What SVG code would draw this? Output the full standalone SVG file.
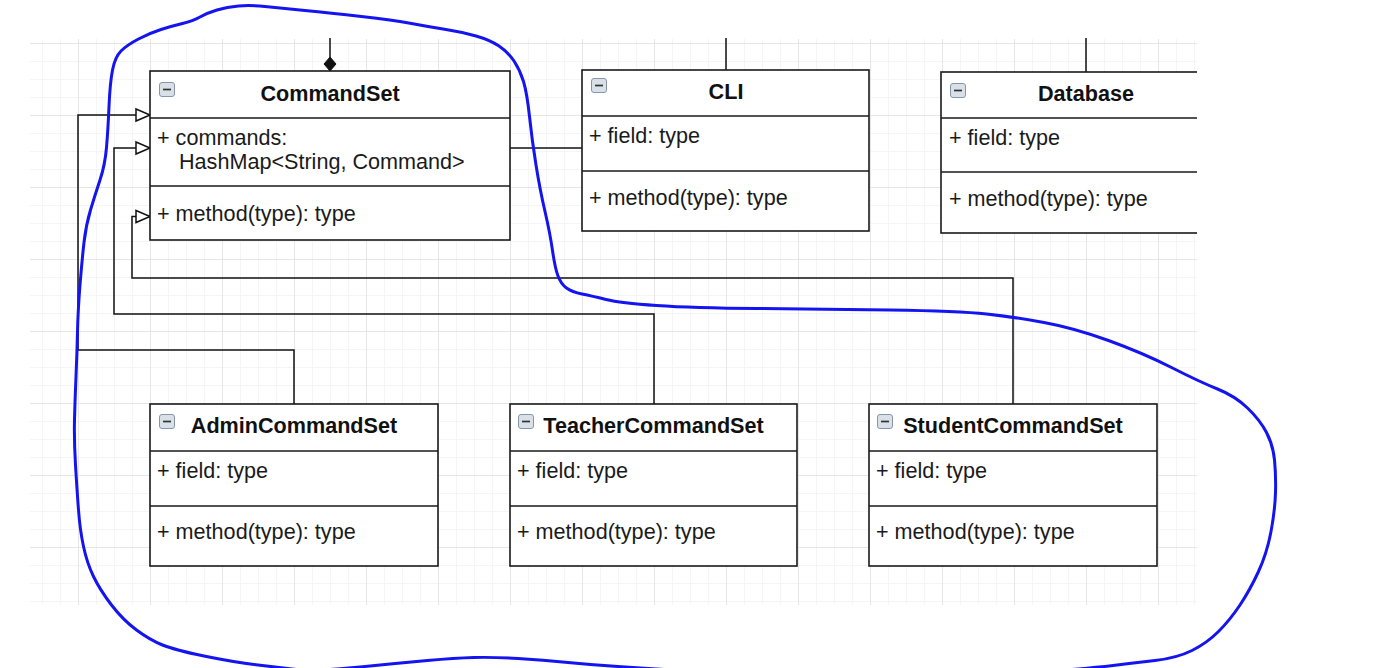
<svg xmlns="http://www.w3.org/2000/svg" xmlns:xlink="http://www.w3.org/1999/xlink" width="1384" height="668" viewBox="0 0 1384 668">
<style>
.box{fill:#fff;stroke:#1a1a1a;stroke-width:1.6}
.div{stroke:#1a1a1a;stroke-width:1.6;fill:none}
.t{font-family:"Liberation Sans",Arial,sans-serif;font-size:21.6px;fill:#1a1a1a}
.h{font-weight:bold;text-anchor:middle;fill:#111}
.c{fill:none;stroke:#111;stroke-width:1.5}
.hand{fill:none;stroke:#1414f0;stroke-width:3;stroke-linejoin:round;stroke-linecap:round}
</style>
<defs>
<pattern id="grid" patternUnits="userSpaceOnUse" x="6" y="43" width="72" height="72">
<path d="M18.5 0V72M36.5 0V72M54.5 0V72M0 18.5H72M0 36.5H72M0 54.5H72" stroke="#f5f5f5" stroke-width="1"/>
<path d="M0.5 0V72M0 0.5H72" stroke="#e6e6e6" stroke-width="1"/>
</pattern>
<marker id="tri" markerUnits="userSpaceOnUse" markerWidth="16" markerHeight="14" refX="14" refY="6" orient="auto" overflow="visible">
<path d="M0,0 L14,6 L0,12 Z" fill="#fff" stroke="#111" stroke-width="1.5"/>
</marker>
<marker id="dia" markerUnits="userSpaceOnUse" markerWidth="16" markerHeight="14" refX="14" refY="6" orient="auto" overflow="visible">
<path d="M0,6 L7,0 L14,6 L7,12 Z" fill="#111" stroke="#111" stroke-width="1"/>
</marker>
<symbol id="tog" overflow="visible">
<rect x="0.5" y="0.5" width="15" height="14" rx="2.5" fill="#d9e0e8" stroke="#8795a8"/>
<path d="M4 7.5H12" stroke="#333" stroke-width="1.7"/>
</symbol>
<clipPath id="clipR"><rect x="0" y="0" width="1197" height="668"/></clipPath>
</defs>
<rect x="0" y="0" width="1384" height="668" fill="#fff"/>
<rect x="30" y="39" width="1167" height="566" fill="url(#grid)"/>

<g id="connectors">
<path class="c" d="M330,38 V71" marker-end="url(#dia)"/>
<path class="c" d="M726,38 V70"/>
<path class="c" d="M1086,38 V72"/>
<path class="c" d="M510,148 H582"/>
<path class="c" d="M294,404 V350 H78 V115 H150" marker-end="url(#tri)"/>
<path class="c" d="M654,404 V314 H114 V148 H150" marker-end="url(#tri)"/>
<path class="c" d="M1013,404 V278 H132 V216.5 H150" marker-end="url(#tri)"/>
</g>

<g id="CommandSet">
<rect class="box" x="150" y="71" width="360" height="169"/>
<path class="div" d="M150,118 H510 M150,186 H510"/>
<use xlink:href="#tog" x="159" y="82"/>
<text class="t h" x="330" y="101">CommandSet</text>
<text class="t" x="157" y="145">+ commands:</text>
<text class="t" x="179" y="169">HashMap&lt;String, Command&gt;</text>
<text class="t" x="157" y="221">+ method(type): type</text>
</g>

<g id="CLI">
<rect class="box" x="582" y="70" width="287" height="161"/>
<path class="div" d="M582,116 H869 M582,171 H869"/>
<use xlink:href="#tog" x="591" y="78"/>
<text class="t h" x="726" y="99">CLI</text>
<text class="t" x="589" y="143">+ field: type</text>
<text class="t" x="589" y="205">+ method(type): type</text>
</g>

<g id="Database" clip-path="url(#clipR)">
<rect class="box" x="941" y="72" width="290" height="161"/>
<path class="div" d="M941,118 H1231 M941,172 H1231"/>
<use xlink:href="#tog" x="950" y="83"/>
<text class="t h" x="1086" y="101">Database</text>
<text class="t" x="949" y="145">+ field: type</text>
<text class="t" x="949" y="206">+ method(type): type</text>
</g>

<g id="AdminCommandSet">
<rect class="box" x="150" y="404" width="288" height="162"/>
<path class="div" d="M150,451 H438 M150,506 H438"/>
<use xlink:href="#tog" x="159" y="414"/>
<text class="t h" x="294" y="433">AdminCommandSet</text>
<text class="t" x="157" y="478">+ field: type</text>
<text class="t" x="157" y="539">+ method(type): type</text>
</g>

<g id="TeacherCommandSet">
<rect class="box" x="510" y="404" width="287" height="162"/>
<path class="div" d="M510,451 H797 M510,506 H797"/>
<use xlink:href="#tog" x="518" y="414"/>
<text class="t h" x="653.5" y="433">TeacherCommandSet</text>
<text class="t" x="517" y="478">+ field: type</text>
<text class="t" x="517" y="539">+ method(type): type</text>
</g>

<g id="StudentCommandSet">
<rect class="box" x="869" y="404" width="288" height="162"/>
<path class="div" d="M869,451 H1157 M869,506 H1157"/>
<use xlink:href="#tog" x="877" y="414"/>
<text class="t h" x="1013" y="433">StudentCommandSet</text>
<text class="t" x="876" y="478">+ field: type</text>
<text class="t" x="876" y="539">+ method(type): type</text>
</g>

<path id="outline" class="hand" d="M80,285 Q82,260 84,242.5 Q86,225 90.5,210 Q95,195 100,180 Q105,165 106.5,147.5 Q108,130 109,106.5 Q110,83 112.5,70 Q115,57 121,51 Q127,45 138.5,39 Q150,33 161,29.5 Q172,26 182.5,23.5 Q193,21 200,17 Q207,13 217,10 Q227,7 238.5,6 Q250,5 265,6.5 Q280,8 305,10.5 Q330,13 361.5,16.5 Q393,20 411.5,23.5 Q430,27 446,29.5 Q462,32 476,36 Q490,40 499,46 Q508,52 514,61 Q520,70 523.5,81.5 Q527,93 529.5,116.5 Q532,140 536,165 Q540,190 545,211.5 Q550,233 552.5,250.5 Q555,268 558,276 Q561,284 566.5,288 Q572,292 582,294 Q592,296 606,299.5 Q620,303 656.5,305.5 Q693,308 757,308.5 Q821,309 890,310 Q959,311 986.5,314 Q1014,317 1044,322.5 Q1074,328 1108.5,340.5 Q1143,353 1171.5,367.5 Q1200,382 1217.5,389 Q1235,396 1247.5,408 Q1260,420 1266.5,432.5 Q1273,445 1274.5,460 Q1276,475 1275.5,492.5 Q1275,510 1271,531.5 Q1267,553 1258.5,571.5 Q1250,590 1240,605 Q1230,620 1218.5,631.5 Q1207,643 1192,650.5 Q1177,658 1155,660.5 Q1133,663 1113,665.5 Q1093,668 1046.5,671.5 Q1000,675 930,675.5 Q860,676 780,674 Q700,672 671.5,670 Q643,668 618,666.5 Q593,665 568,662.5 Q543,660 518,658.5 Q493,657 474,657.5 Q455,658 427.5,660.5 Q400,663 375,665.5 Q350,668 330,669.5 Q310,671 296.5,669.5 Q283,668 258,665 Q233,662 204,656 Q175,650 162.5,645 Q150,640 136.5,630 Q123,620 111.5,605 Q100,590 93.5,576.5 Q87,563 83.5,546.5 Q80,530 78.5,510 Q77,490 75.5,465 Q74,440 74.5,420 Q75,400 76,376.5 Q77,353 77.5,331.5 Q78,310 80,285 Z"/>
</svg>
